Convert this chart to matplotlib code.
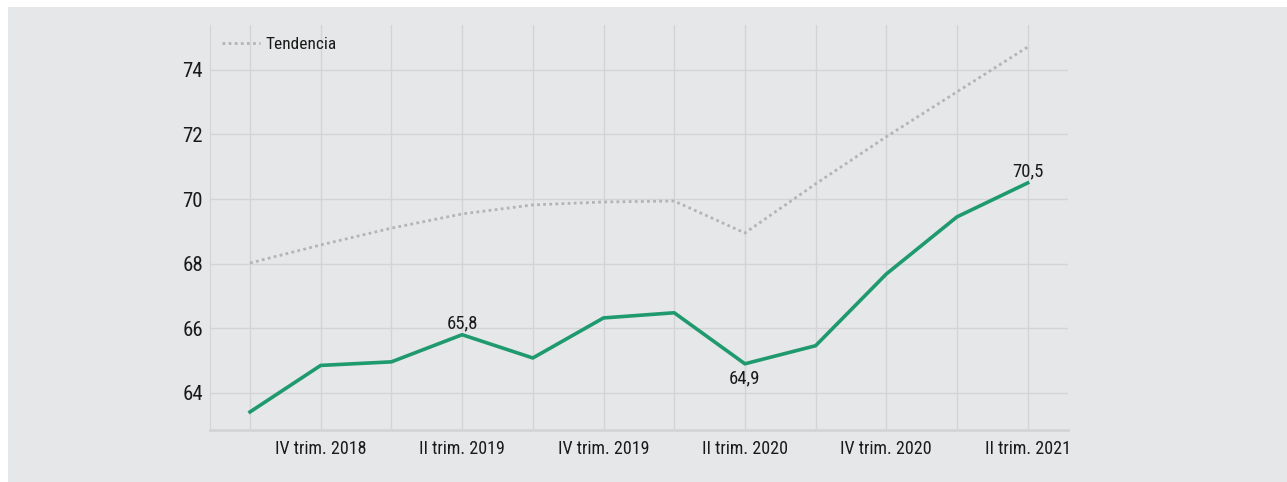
import numpy as np
import matplotlib.pyplot as plt
from matplotlib.patches import Rectangle

plt.rcParams['font.family'] = ['Roboto Condensed', 'Liberation Sans Narrow',
                               'Liberation Sans', 'DejaVu Sans']

quarters = ['III trim. 2018', 'IV trim. 2018', 'I trim. 2019', 'II trim. 2019',
            'III trim. 2019', 'IV trim. 2019', 'I trim. 2020', 'II trim. 2020',
            'III trim. 2020', 'IV trim. 2020', 'I trim. 2021', 'II trim. 2021']
serie = [63.41, 64.85, 64.96, 65.8, 65.08, 66.32, 66.48, 64.9, 65.46, 67.68, 69.45, 70.5]
tendencia = [68.02, 68.58, 69.1, 69.54, 69.82, 69.91, 69.94, 68.95, 70.47, 71.93, 73.32, 74.71]
etiquetas = {3: ('65,8', 'above'), 7: ('64,9', 'below'), 11: ('70,5', 'above')}
yticks = [64, 66, 68, 70, 72, 74]

bg = '#e6e7e8'
grid = '#d3d4d5'
green = '#1f9a6e'
txtc = '#1a1a1a'

fig = plt.figure(figsize=(12.87, 4.82), dpi=100, facecolor='white')
fig.patches.append(Rectangle((8 / 1287, 0), 1, (482 - 7) / 482,
                             transform=fig.transFigure, facecolor=bg,
                             edgecolor='none', zorder=-5))
ax = fig.add_axes([210 / 1287, 52 / 482, 858 / 1287, 405 / 482])
ax.set_facecolor(bg)

x = np.arange(len(quarters))
ax.plot(x, tendencia, color='#b4b4b4', lw=2, linestyle=(0, (1, 1.2)),
        label='Tendencia', zorder=3)
ax.plot(x, serie, color=green, lw=2.6, zorder=4)

for i, (txt, pos) in etiquetas.items():
    if pos == 'above':
        ax.annotate(txt, (x[i], serie[i]), xytext=(0, 2), textcoords='offset points',
                    ha='center', va='bottom', fontsize=13.5, color=txtc)
    else:
        ax.annotate(txt, (x[i], serie[i]), xytext=(0, -4), textcoords='offset points',
                    ha='center', va='top', fontsize=13.5, color=txtc)

ax.set_xlim(-0.566, 11.57)
ax.set_ylim(62.85, 75.39)
ax.set_xticks(x)
ax.set_xticklabels([q if i % 2 == 1 else '' for i, q in enumerate(quarters)],
                   fontsize=13, color=txtc)
ax.set_yticks(yticks)
ax.set_yticklabels([str(v) for v in yticks], fontsize=15, color=txtc)
ax.tick_params(length=0, pad=7)
ax.tick_params(axis='y', pad=5)
ax.grid(True, color=grid, lw=1)
ax.set_axisbelow(True)
for s in ['top', 'right']:
    ax.spines[s].set_visible(False)
ax.spines['left'].set_color(grid)
ax.spines['bottom'].set_color(grid)
ax.spines['bottom'].set_linewidth(2)

leg = ax.legend(loc='upper left', frameon=False, fontsize=12.5, handlelength=2.2,
                handletextpad=0.3, borderaxespad=0.3)
for t in leg.get_texts():
    t.set_color(txtc)

fig.savefig('out.png', dpi=100, facecolor='white')
